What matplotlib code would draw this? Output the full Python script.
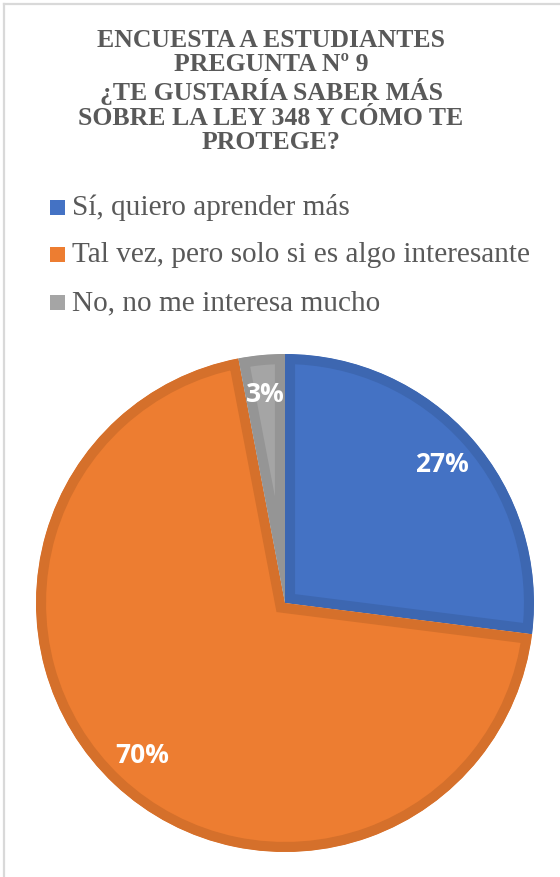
import matplotlib
matplotlib.use("Agg")
import matplotlib.pyplot as plt
from matplotlib.patches import Rectangle
from matplotlib.lines import Line2D

W, H = 560, 877

title_lines = ["ENCUESTA A ESTUDIANTES", "PREGUNTA Nº 9", "¿TE GUSTARÍA SABER MÁS",
               "SOBRE LA LEY 348 Y CÓMO TE", "PROTEGE?"]
categories = ["Sí, quiero aprender más",
              "Tal vez, pero solo si es algo interesante",
              "No, no me interesa mucho"]
values = [27, 70, 3]
colors = ["#4472C4", "#ED7D31", "#A5A5A5"]
edge_colors = ["#3D67B1", "#D5702B", "#959595"]

fig = plt.figure(figsize=(W / 100, H / 100), dpi=100)
fig.patch.set_facecolor("white")

def fx(x):
    return x / W

def fy(y):
    return 1 - y / H

# chart area border (top + left visible)
fig.add_artist(Line2D([fx(3.5), fx(W)], [fy(3.5), fy(3.5)], color="#D9D9D9", lw=1.6))
fig.add_artist(Line2D([fx(3.5), fx(3.5)], [fy(3.5), fy(H)], color="#D9D9D9", lw=1.6))

# title
fig.text(fx(271), fy(29), "\n".join(title_lines), ha="center", va="top",
         family="Liberation Serif", weight="bold", fontsize=18.5, color="#595959",
         linespacing=1.08)

# legend
leg_y = [215, 262.5, 310]
for lab, c, yb in zip(categories, colors, leg_y):
    fig.patches.append(Rectangle((fx(49.5), fy(yb - 0.5)), 15 / W, 15 / H, facecolor=c,
                                 edgecolor="none", transform=fig.transFigure, figure=fig))
    fig.text(fx(71.5), fy(yb), lab, ha="left", va="baseline", family="Liberation Serif",
             fontsize=21.1, color="#595959")

# pie
cx, cy, r = 285, 603, 249
ax = fig.add_axes([fx(cx - r), fy(cy + r), 2 * r / W, 2 * r / H])
wedges, texts, autotexts = ax.pie(values, colors=colors, startangle=90, counterclock=False,
                                  radius=1, autopct="%1.0f%%", pctdistance=0.84,
                                  wedgeprops=dict(linewidth=14.5),
                                  textprops=dict(color="white", family="Open Sans",
                                                 weight="bold", fontsize=19))
for w, ec in zip(wedges, edge_colors):
    w.set_edgecolor(ec)
    w.set_clip_path(w)
    w.set_clip_on(True)
ax.set_xlim(-1, 1)
ax.set_ylim(-1, 1)
ax.axis("off")

fig.savefig("out.png", dpi=100, facecolor="white")
